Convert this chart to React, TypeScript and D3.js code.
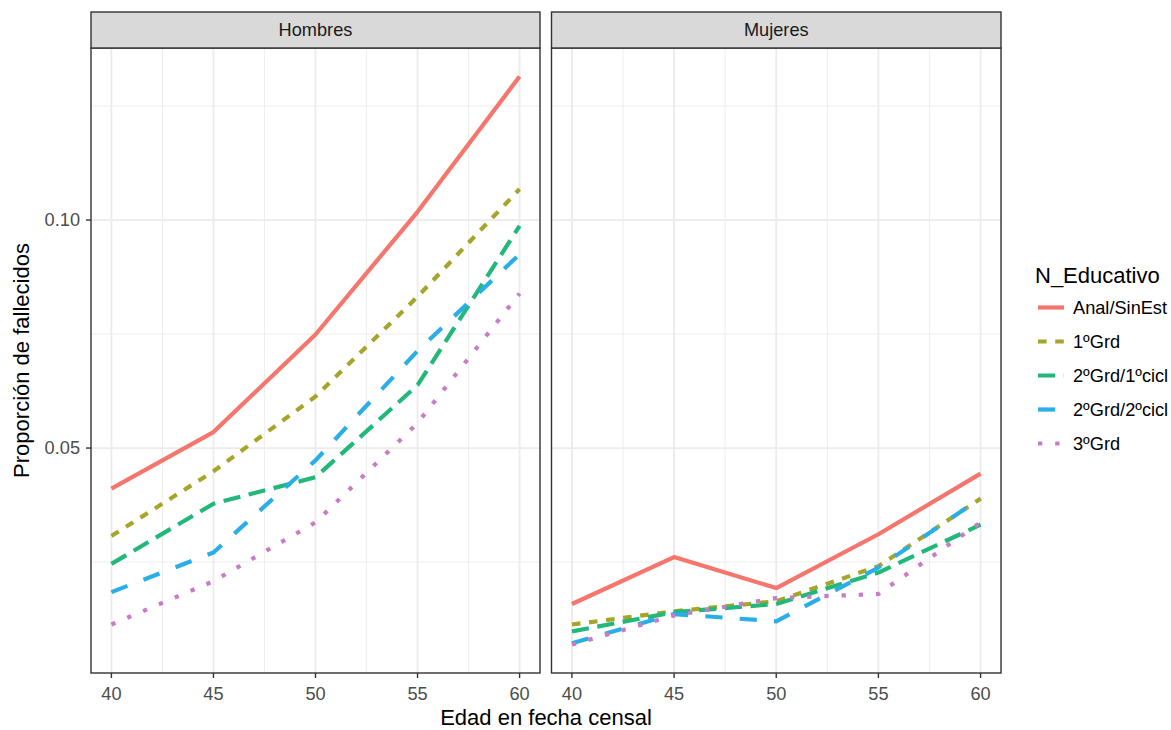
import React from "react";
import * as d3 from "d3";

// Age groups at the census date
const ages = [40, 45, 50, 55, 60];
const xTicks = [40, 45, 50, 55, 60];
const xMinor = [42.5, 47.5, 52.5, 57.5];
const yTicks = [0.05, 0.1];
const yMinor = [0.025, 0.075, 0.125];

const levels = ["Anal/SinEst", "1ºGrd", "2ºGrd/1ºcicl", "2ºGrd/2ºcicl", "3ºGrd"];
const colors = ["#F6756C", "#A6A52A", "#22B87A", "#2BAEE8", "#C97CC6"];
// ggplot linetype hex codes: solid, 22, 42, 44, 13
const dashCodes = ["", "22", "42", "44", "13"];

const panels = ["Hombres", "Mujeres"];

// Proportion of deaths, men
const hombresAnal = [0.0411, 0.0535, 0.0749, 0.1018, 0.1315];
const hombres1Grd = [0.0307, 0.0449, 0.0613, 0.0832, 0.1068];
const hombres2Grd1 = [0.0246, 0.0378, 0.0436, 0.0638, 0.0987];
const hombres2Grd2 = [0.0184, 0.0271, 0.0473, 0.0713, 0.0925];
const hombres3Grd = [0.0113, 0.0208, 0.0337, 0.0555, 0.0839];

// Proportion of deaths, women
const mujeresAnal = [0.0158, 0.0261, 0.0193, 0.0311, 0.0444];
const mujeres1Grd = [0.0113, 0.0142, 0.0164, 0.0241, 0.0389];
const mujeres2Grd1 = [0.0098, 0.014, 0.0158, 0.0227, 0.0332];
const mujeres2Grd2 = [0.0072, 0.0136, 0.012, 0.0238, 0.039];
const mujeres3Grd = [0.0069, 0.0133, 0.0171, 0.018, 0.0337];

const seriesByPanel = [
  [hombresAnal, hombres1Grd, hombres2Grd1, hombres2Grd2, hombres3Grd],
  [mujeresAnal, mujeres1Grd, mujeres2Grd1, mujeres2Grd2, mujeres3Grd],
];

const W = 1171;
const H = 730;
const FONT = "'Liberation Sans', Arial, Helvetica, sans-serif";
const LW = 4.2;
const DASH_UNIT = 4.3;
const SMALL = 18.2;
const LARGE = 22;

const panelX = [
  [91, 540],
  [551.5, 1001],
];
const panelTop = 48;
const panelBottom = 673;
const stripTop = 12;

function dashArray(code: string): string | undefined {
  if (!code) return undefined;
  return code
    .split("")
    .map((c) => String(parseInt(c, 16) * DASH_UNIT))
    .join(" ");
}

export default function App() {
  const allVals = seriesByPanel.flat(2);
  const [ymin, ymax] = d3.extent(allVals) as [number, number];
  const pad = (ymax - ymin) * 0.05;
  const y = d3
    .scaleLinear()
    .domain([ymin - pad, ymax + pad])
    .range([panelBottom, panelTop]);

  const xScales = panelX.map(([a, b]) =>
    d3.scaleLinear().domain([39, 61]).range([a, b])
  );

  const grid = "#EBEBEB";
  const border = "#333333";

  return (
    <svg
      width={W}
      height={H}
      style={{ position: "absolute", left: 0, top: 0, background: "#fff" }}
      fontFamily={FONT}
    >
      <rect x={0} y={0} width={W} height={H} fill="#fff" />
      {panels.map((name, pi) => {
        const x = xScales[pi];
        const [x0, x1] = panelX[pi];
        const line = d3
          .line<number>()
          .x((_, i) => x(ages[i]))
          .y((v) => y(v));
        return (
          <g key={name}>
            {/* minor grid */}
            {yMinor.map((t) => (
              <line
                key={"ym" + t}
                x1={x0}
                x2={x1}
                y1={y(t)}
                y2={y(t)}
                stroke={grid}
                strokeWidth={0.9}
              />
            ))}
            {xMinor.map((t) => (
              <line
                key={"xm" + t}
                x1={x(t)}
                x2={x(t)}
                y1={panelTop}
                y2={panelBottom}
                stroke={grid}
                strokeWidth={0.9}
              />
            ))}
            {/* major grid */}
            {yTicks.map((t) => (
              <line
                key={"yM" + t}
                x1={x0}
                x2={x1}
                y1={y(t)}
                y2={y(t)}
                stroke={grid}
                strokeWidth={1.8}
              />
            ))}
            {xTicks.map((t) => (
              <line
                key={"xM" + t}
                x1={x(t)}
                x2={x(t)}
                y1={panelTop}
                y2={panelBottom}
                stroke={grid}
                strokeWidth={1.8}
              />
            ))}
            {/* series */}
            {seriesByPanel[pi].map((vals, si) => (
              <path
                key={levels[si]}
                d={line(vals) || ""}
                fill="none"
                stroke={colors[si]}
                strokeWidth={LW}
                strokeDasharray={dashArray(dashCodes[si])}
                strokeLinecap="butt"
                strokeLinejoin="round"
              />
            ))}
            {/* panel border */}
            <rect
              x={x0}
              y={panelTop}
              width={x1 - x0}
              height={panelBottom - panelTop}
              fill="none"
              stroke={border}
              strokeWidth={1.4}
            />
            {/* strip */}
            <rect
              x={x0}
              y={stripTop}
              width={x1 - x0}
              height={panelTop - stripTop}
              fill="#D9D9D9"
              stroke={border}
              strokeWidth={1.4}
            />
            <text
              x={(x0 + x1) / 2}
              y={(stripTop + panelTop) / 2}
              textAnchor="middle"
              dominantBaseline="central"
              fontSize={SMALL}
              fill="#1A1A1A"
            >
              {name}
            </text>
            {/* x axis */}
            {xTicks.map((t) => (
              <g key={"xt" + t}>
                <line
                  x1={x(t)}
                  x2={x(t)}
                  y1={panelBottom}
                  y2={panelBottom + 5}
                  stroke={border}
                  strokeWidth={1.4}
                />
                <text
                  x={x(t)}
                  y={699.5}
                  textAnchor="middle"
                  fontSize={SMALL}
                  fill="#4D4D4D"
                >
                  {t}
                </text>
              </g>
            ))}
          </g>
        );
      })}
      {/* y axis on the left panel */}
      {yTicks.map((t) => (
        <g key={"yt" + t}>
          <line
            x1={panelX[0][0] - 5}
            x2={panelX[0][0]}
            y1={y(t)}
            y2={y(t)}
            stroke={border}
            strokeWidth={1.4}
          />
          <text
            x={80}
            y={y(t)}
            textAnchor="end"
            dominantBaseline="central"
            fontSize={SMALL}
            fill="#4D4D4D"
          >
            {d3.format(".2f")(t)}
          </text>
        </g>
      ))}
      {/* axis titles */}
      <text
        x={(panelX[0][0] + panelX[1][1]) / 2}
        y={725}
        textAnchor="middle"
        fontSize={LARGE}
        fill="#000"
      >
        Edad en fecha censal
      </text>
      <text
        transform={`translate(29,${(panelTop + panelBottom) / 2}) rotate(-90)`}
        textAnchor="middle"
        fontSize={LARGE}
        fill="#000"
      >
        Proporción de fallecidos
      </text>
      {/* legend */}
      <text x={1035} y={283} fontSize={LARGE} fill="#000">
        N_Educativo
      </text>
      {levels.map((lv, i) => {
        const cy = 307.5 + i * 34;
        return (
          <g key={lv}>
            <line
              x1={1038}
              x2={1064}
              y1={cy}
              y2={cy}
              stroke={colors[i]}
              strokeWidth={LW}
              strokeDasharray={dashArray(dashCodes[i])}
            />
            <text
              x={1073}
              y={cy}
              dominantBaseline="central"
              fontSize={SMALL}
              fill="#000"
            >
              {lv}
            </text>
          </g>
        );
      })}
    </svg>
  );
}
